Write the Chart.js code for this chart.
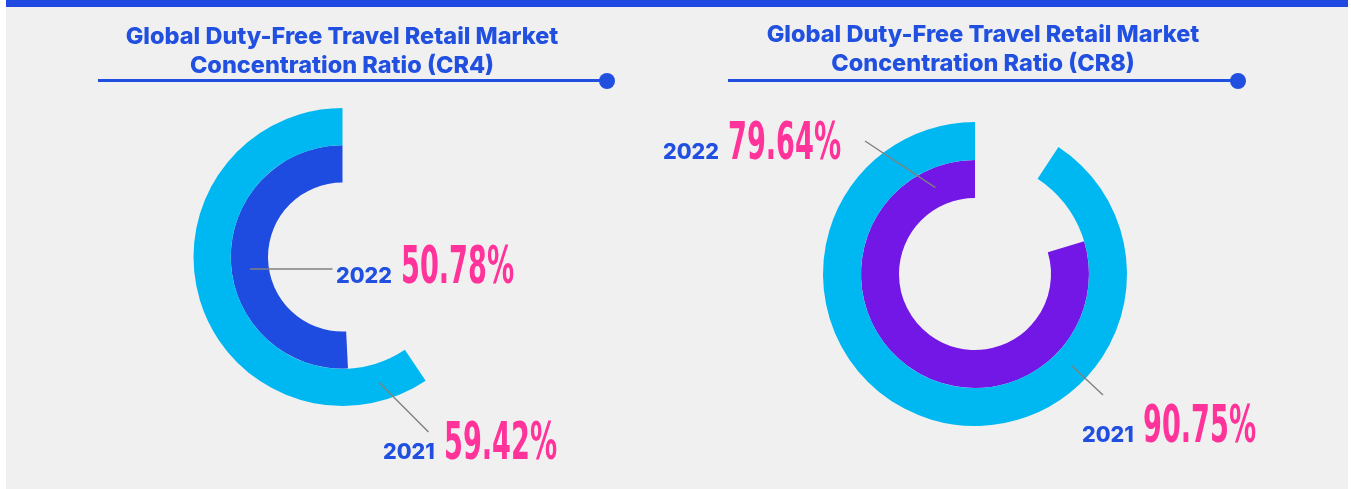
<!DOCTYPE html>
<html lang="en">
<head>
<meta charset="UTF-8">
<title>Global Duty-Free Travel Retail Market Concentration Ratio</title>
<style>
  body { margin: 0; width: 1351px; height: 489px; background: #fff; overflow: hidden; font-family: Inter, Arial, sans-serif; }
  .panel { position: absolute; left: 6px; top: 0; width: 1342px; height: 489px; background: #f0f0f0; }
  .topbar { position: absolute; left: 0; top: 0; width: 100%; height: 7px; background: #1f49e0; }
  .title { position: absolute; width: 560px; text-align: center; color: #2150e0; font-weight: 800; font-size: 23.5px; line-height: 29px; z-index: 2; }
  .rule { position: absolute; height: 3px; background: #2150e0; }
  .rule::after { content: ''; position: absolute; right: -8px; top: -6.5px; width: 16px; height: 16px; border-radius: 50%; background: #2150e0; }
  canvas { position: absolute; top: 8px; }
  .lbl { position: absolute; white-space: nowrap; z-index: 3; }
  .yr { font: 800 21.5px Inter, Arial, sans-serif; color: #2150e0; margin-right: 9px; }
  .pct { font: 700 51px "Liberation Sans Narrow", "DejaVu Sans Condensed", sans-serif; color: #ff3399; display: inline-block; transform-origin: left bottom; }
  .mark { display: inline-block; width: 0; height: 0; }
</style>
<script src="https://cdn.jsdelivr.net/npm/chart.js"></script>
</head>
<body>
  <div class="panel"><div class="topbar"></div></div>
  <div class="title" style="left:62px; top:21px;">Global Duty-Free Travel Retail Market<br>Concentration Ratio (CR4)</div>
  <div class="title" style="left:703px; top:19px;">Global Duty-Free Travel Retail Market<br>Concentration Ratio (CR8)</div>
  <div class="rule" style="left:98px; top:79px; width:509px;"></div>
  <div class="rule" style="left:728px; top:79px; width:510px;"></div>

  <canvas id="cr4" width="670" height="481" style="left:6px"></canvas>
  <canvas id="cr8" width="672" height="481" style="left:676px"></canvas>

<script>
// data: outer ring = 2021, inner ring = 2022
const years = ['2021', '2022'];
const cr4Values = [59.42, 50.78];
const cr8Values = [90.75, 79.64];

const cr4Colors = ['#00b8f1', '#1f4ce0'];
const cr8Colors = ['#00b8f1', '#7217e6'];

// leader lines: start angle on ring (deg, clockwise from top), end offset from centre
const cr4Leaders = [
  { dataset: 0, angle: 163.8, dx: 86, dy: 175 },
  { dataset: 1, angle: 262.6, dx: -10, dy: 12 }
];
const cr8Leaders = [
  { dataset: 0, angle: 133.5, dx: 128, dy: 121 },
  { dataset: 1, angle: 335.4, dx: -110, dy: -133 }
];

// label positions on page (left of year text, baseline)
const cr4LabelPos = [[383, 459], [336, 283]];
const cr8LabelPos = [[1082, 442], [663, 159]];

const leaderLines = {
  id: 'leaderLines',
  afterDatasetsDraw(chart, args, opts) {
    const ctx = chart.ctx;
    ctx.save();
    ctx.strokeStyle = '#808080';
    ctx.lineWidth = 1.4;
    opts.lines.forEach(l => {
      const arc = chart.getDatasetMeta(l.dataset).data[1];
      const r = (arc.innerRadius + arc.outerRadius) / 2;
      const a = (l.angle - 90) * Math.PI / 180;
      ctx.beginPath();
      ctx.moveTo(arc.x + r * Math.cos(a), arc.y + r * Math.sin(a));
      ctx.lineTo(arc.x + l.dx, arc.y + l.dy);
      ctx.stroke();
    });
    ctx.restore();
  }
};

function makeRing(id, values, colors, leaders, padding) {
  new Chart(document.getElementById(id), {
    type: 'doughnut',
    data: {
      labels: ['', ''],
      datasets: values.map((v, i) => ({
        label: years[i],
        // empty part first so the filled arc runs anticlockwise from 12 o'clock
        data: [+(100 - v).toFixed(2), v],
        backgroundColor: ['rgba(0,0,0,0)', colors[i]],
        borderWidth: 0,
        hoverOffset: 0,
        offset: 0
      }))
    },
    options: {
      responsive: false,
      devicePixelRatio: 1,
      animation: false,
      cutout: '50%',
      layout: { padding: padding },
      events: [],
      plugins: {
        legend: { display: false },
        tooltip: { enabled: false },
        leaderLines: { lines: leaders }
      }
    },
    plugins: [leaderLines]
  });
}

makeRing('cr4', cr4Values, cr4Colors, cr4Leaders, { left: 187, top: 100, right: 184, bottom: 83 });
makeRing('cr8', cr8Values, cr8Colors, cr8Leaders, { left: 147, top: 114, right: 221, bottom: 63 });

function addLabel(year, value, pos) {
  const d = document.createElement('div');
  d.className = 'lbl';
  d.innerHTML = '<span class="yr">' + year + '</span><span class="pct">' + value.toFixed(2) + '%</span><span class="mark"></span>';
  document.body.appendChild(d);
  const pct = d.querySelector('.pct');
  pct.style.transform = 'scaleX(' + (113 / pct.offsetWidth).toFixed(3) + ')';
  const base = d.querySelector('.mark').offsetTop;
  d.style.left = pos[0] + 'px';
  d.style.top = (pos[1] - base) + 'px';
}

years.forEach((y, i) => {
  addLabel(y, cr4Values[i], cr4LabelPos[i]);
  addLabel(y, cr8Values[i], cr8LabelPos[i]);
});
</script>
</body>
</html>
